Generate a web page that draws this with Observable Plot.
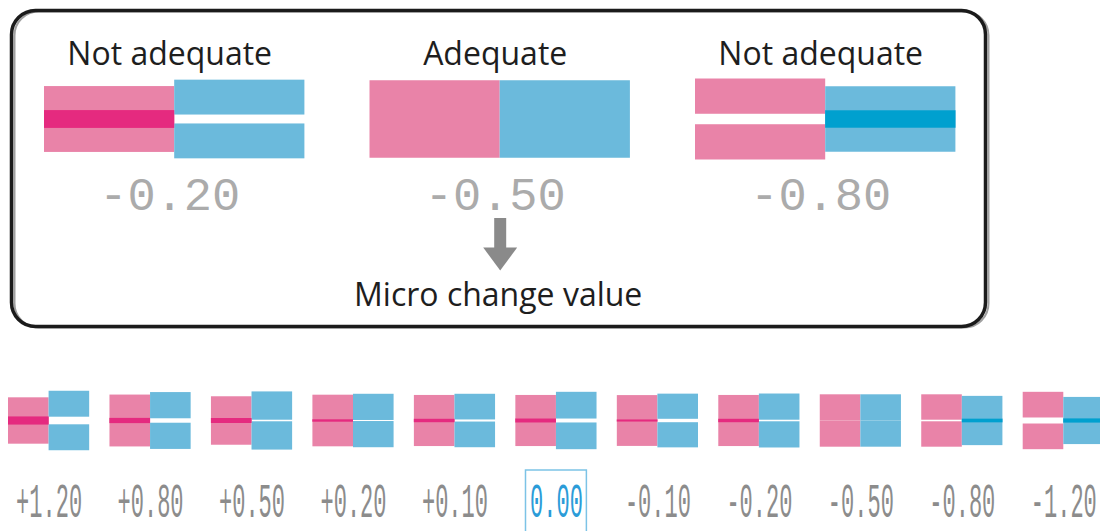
<!DOCTYPE html>
<html><head><meta charset="utf-8">
<script src="https://cdn.jsdelivr.net/npm/d3@7"></script>
<script src="https://cdn.jsdelivr.net/npm/@observablehq/plot@0.6"></script>
<style>
html,body{margin:0;padding:0;background:#fff;}
#chart svg{display:block;}
</style></head><body><div id="chart"></div>
<script>
// ---------- data ----------
// Legend glyphs (top box)
const topTitles = ["Not adequate", "Adequate", "Not adequate"];
const topValues = ["-0.20", "-0.50", "-0.80"];
// half-bar heights and signed gap (negative = overlap), in units of the "adequate" half height
const topPinkHalf = [1.08, 1.00, 0.91];
const topPinkGap  = [-0.46, 0.00, 0.27];
const topBlueHalf = [0.90, 1.00, 1.07];
const topBlueGap  = [0.23, 0.00, -0.45];
const arrowLabel = "Micro change value";

// Row of glyphs (bottom)
const rowValues   = ["+1.20", "+0.80", "+0.50", "+0.20", "+0.10", "0.00", "-0.10", "-0.20", "-0.50", "-0.80", "-1.20"];
const rowPinkHalf = [1.04, 1.09, 1.02, 1.03, 1.04, 1.05, 1.01, 1.04, 1.00, 0.97, 0.98];
const rowPinkGap  = [-0.31, -0.20, -0.19, -0.09, -0.13, -0.15, -0.08, -0.13, 0.00, 0.06, 0.23];
const rowBlueHalf = [0.99, 1.00, 1.08, 1.00, 0.98, 1.02, 0.96, 1.00, 1.00, 1.01, 0.98];
const rowBlueGap  = [0.29, 0.17, 0.06, 0.04, 0.08, 0.15, 0.13, 0.06, 0.00, -0.14, -0.16];
const highlighted = "0.00";

// ---------- styles ----------
const PINK = "#e983a8", PINK_DARK = "#e52a7f", BLUE = "#6bbadc", BLUE_DARK = "#00a0cf";
const W = 0.4; // width of one colour block in glyph units

function glyphs(pinkHalf, pinkGap, blueHalf, blueGap) {
  const base = [], over = [];
  const sides = [
    {half: pinkHalf, gap: pinkGap, off: 0, fill: PINK, dark: PINK_DARK},
    {half: blueHalf, gap: blueGap, off: W, fill: BLUE, dark: BLUE_DARK}
  ];
  pinkHalf.forEach((_, i) => {
    for (const s of sides) {
      const h = s.half[i], g = s.gap[i];
      const x1 = i + s.off, x2 = i + s.off + W;
      base.push({x1, x2, y1: g / 2, y2: g / 2 + h, fill: s.fill});
      base.push({x1, x2, y1: -g / 2 - h, y2: -g / 2, fill: s.fill});
      if (g < 0) over.push({x1, x2, y1: g / 2, y2: -g / 2, fill: s.dark});
    }
  });
  return {base, over};
}

// ---------- top box ----------
const T = {x0: 44, ux: 325.5, left: 11, right: 985, cy: 119, uy: 38.75, top: 10, bottom: 326, height: 345};
const tY = p => (T.cy - p) / T.uy;
const topG = glyphs(topPinkHalf, topPinkGap, topBlueHalf, topBlueGap);
const topIdx = d3.range(topTitles.length);

const downTriangle = {
  draw(ctx) { const w = 17, h = 23; ctx.moveTo(-w, -h / 2); ctx.lineTo(w, -h / 2); ctx.lineTo(0, h / 2); ctx.closePath(); }
};

const topPlot = Plot.plot({
  width: 1100, height: T.height,
  marginTop: T.top, marginBottom: T.height - T.bottom, marginLeft: T.left, marginRight: 1100 - T.right,
  x: {domain: [(T.left - T.x0) / T.ux, (T.right - T.x0) / T.ux], axis: null},
  y: {domain: [tY(T.bottom), tY(T.top)], axis: null},
  color: {type: "identity"},
  marks: [
    Plot.frame({stroke: "#a0a0a0", strokeWidth: 2, rx: 24, dx: 3, dy: 1}),
    Plot.frame({stroke: "#1b1b1b", strokeWidth: 3.5, rx: 24}),
    Plot.rect(topG.base, {x1: "x1", x2: "x2", y1: "y1", y2: "y2", fill: "fill"}),
    Plot.rect(topG.over, {x1: "x1", x2: "x2", y1: "y1", y2: "y2", fill: "fill"}),
    Plot.text(topIdx, {x: i => i + W, y: () => tY(64), text: i => topTitles[i], fontFamily: "Open Sans", fontSize: 32, fill: "#1e1e1e", lineAnchor: "bottom", dx: -5}),
    Plot.text(topIdx, {x: i => i + W, y: () => tY(209), text: i => topValues[i], fontFamily: "Liberation Mono", fontSize: 47, fill: "#ababab", lineAnchor: "bottom", dx: -5}),
    Plot.ruleX([1], {x: i => i + W, y1: () => tY(218), y2: () => tY(250), stroke: "#8a8a8a", strokeWidth: 12}),
    Plot.dot([1], {x: i => i + W, y: () => tY(258.5), symbol: downTriangle, fill: "#8a8a8a", stroke: null}),
    Plot.text([1], {x: i => i + W, y: () => tY(305), text: () => arrowLabel, fontFamily: "Open Sans", fontSize: 32, fill: "#1e1e1e", lineAnchor: "bottom", dx: -2})
  ]
});

// ---------- bottom row ----------
const B = {x0: 8, ux: 101.47, cy: 75.5, uy: 26.2, height: 186};
const bY = p => (B.cy - p) / B.uy;
const rowG = glyphs(rowPinkHalf, rowPinkGap, rowBlueHalf, rowBlueGap);
const rowIdx = d3.range(rowValues.length);

const bottomPlot = Plot.plot({
  width: 1100, height: B.height, margin: 0,
  x: {domain: [(0 - B.x0) / B.ux, (1100 - B.x0) / B.ux], axis: null},
  y: {domain: [bY(B.height), bY(0)], axis: null},
  color: {type: "identity"},
  marks: [
    Plot.rect(rowG.base, {x1: "x1", x2: "x2", y1: "y1", y2: "y2", fill: "fill"}),
    Plot.rect(rowG.over, {x1: "x1", x2: "x2", y1: "y1", y2: "y2", fill: "fill"}),
    Plot.rect(rowIdx.filter(i => rowValues[i] === highlighted), {
      x1: i => i + W - 0.3, x2: i => i + W + 0.3, y1: () => bY(125), y2: () => bY(215),
      fill: "none", stroke: "#7cc3e6", strokeWidth: 1.5
    }),
    Plot.text(rowIdx, {
      x: i => i + W, y: () => bY(171.5), text: i => rowValues[i],
      fill: i => rowValues[i] === highlighted ? "#2b9cd8" : "#8c8c8c",
      fontFamily: "Liberation Mono", fontSize: 22, lineAnchor: "bottom"
    })
  ]
});

// stretch the row labels vertically (tall condensed digits)
d3.select(bottomPlot).selectAll("text").each(function () {
  const t = d3.select(this);
  const tr = t.attr("transform");
  if (tr) t.attr("transform", tr + " scale(1,2.15)");
  else {
    const x = +t.attr("x") || 0, y = +t.attr("y") || 0;
    t.attr("x", null).attr("y", null).attr("transform", `translate(${x},${y}) scale(1,2.15)`);
  }
});

const chart = document.getElementById("chart");
chart.appendChild(topPlot);
chart.appendChild(bottomPlot);
</script></body></html>
